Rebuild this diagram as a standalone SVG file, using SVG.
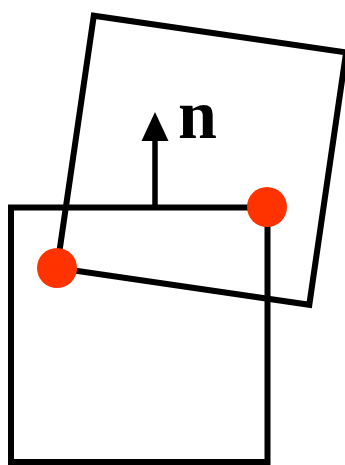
<svg xmlns="http://www.w3.org/2000/svg" width="345" height="465" viewBox="0 0 345 465">
<style>
.sq{fill:none;stroke:#000;stroke-width:6;stroke-linejoin:miter}
.pt{fill:#FF3300}
.lbl{font-family:"Liberation Serif","Times New Roman",serif;font-weight:bold;font-size:70px;fill:#000}
</style>
<rect width="345" height="465" fill="#fff"/>
<g id="square-fixed"><rect class="sq" x="11" y="207.5" width="256.5" height="254.5"/></g>
<g id="square-rotated"><polygon class="sq" points="57,268 93.8,15.7 346.1,52.5 309.3,304.8"/></g>
<g id="connectors">
<line x1="155" y1="207" x2="155" y2="138" stroke="#000" stroke-width="5.5"/>
<polygon points="155,112 141.5,141 168.5,141" fill="#000"/>
</g>
<g id="label-n"><text class="lbl" x="178" y="138">n</text></g>
<g id="points">
<circle class="pt" cx="57" cy="268" r="20"/>
<circle class="pt" cx="267" cy="207" r="20"/>
</g>
</svg>
